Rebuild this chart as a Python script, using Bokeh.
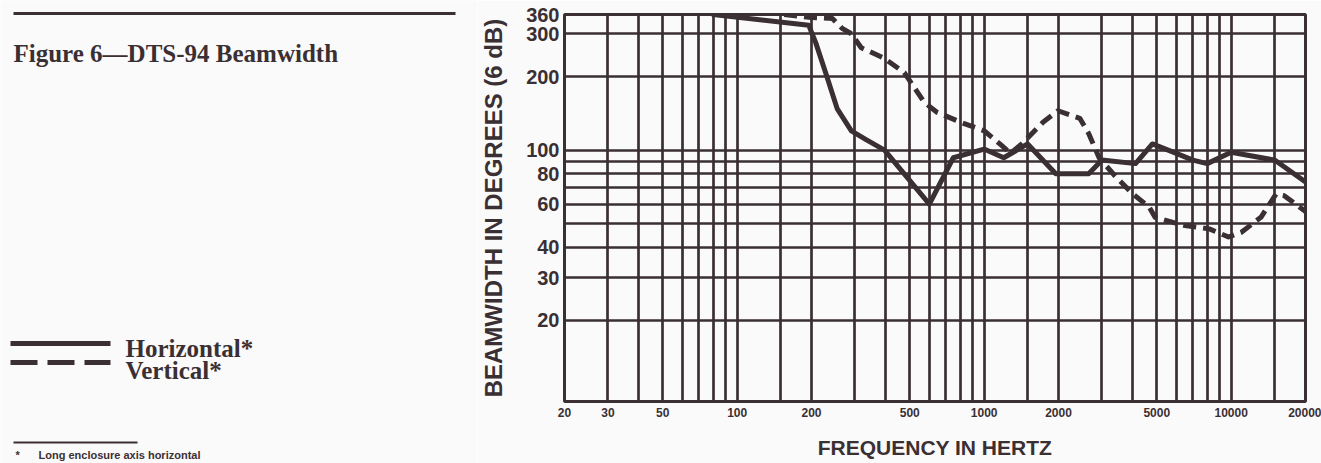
from bokeh.plotting import figure
from bokeh.layouts import row
from bokeh.models import FixedTicker, Range1d
from bokeh.core.properties import value
from bokeh.embed import file_html
from bokeh.resources import INLINE

# ---------------- data ----------------
freq_h = [80, 195, 208, 228, 254, 290, 330, 395, 600, 750, 1000, 1200, 1500,
          1950, 2650, 3000, 4100, 4800, 6000, 7000, 8000, 10000, 15000, 20000]
bw_h = [360, 325, 276, 208, 148, 120, 111, 100, 60, 93, 101, 93, 106,
        80, 80, 91, 88, 106, 97, 91, 88, 98, 91, 74]

freq_v = [155, 200, 243, 266, 290, 318, 394, 475, 572, 644, 804, 1000, 1170,
          1280, 1420, 1730, 1990, 2440, 2650, 2920, 3400, 4000, 4650, 4920,
          6490, 8160, 9760, 11000, 13200, 15200, 16400, 20000]
bw_v = [360, 350, 347, 316, 300, 263, 238, 208, 157, 143, 130, 120, 105,
        97, 106, 130, 145, 135, 117, 93, 78, 66, 58.5, 53,
        49, 47.5, 44, 46, 53, 66, 65, 56]

series_names = ["Horizontal*", "Vertical*"]

x_ticks = [20, 30, 50, 100, 200, 500, 1000, 2000, 5000, 10000, 20000]
x_tick_labels = ["20", "30", "50", "100", "200", "500", "1000", "2000",
                 "5000", "10000", "20000"]
x_grid = [20, 30, 40, 50, 60, 70, 80, 90, 100, 150, 200, 300, 400, 500, 600,
          700, 800, 900, 1000, 1500, 2000, 3000, 4000, 5000, 6000, 7000, 8000,
          9000, 10000, 15000, 20000]

y_ticks = [20, 30, 40, 60, 80, 100, 200, 300, 360]
y_tick_labels = ["20", "30", "40", "60", "80", "100", "200", "300", "360"]
y_grid = [20, 30, 40, 50, 60, 70, 80, 90, 100, 200, 300, 360]

title_text = "Figure 6\u2014DTS-94 Beamwidth"
x_label = "FREQUENCY IN HERTZ"
y_label = "BEAMWIDTH IN DEGREES (6 dB)"
footnote_mark = "*"
footnote_text = "Long enclosure axis horizontal"

# ---------------- style ----------------
INK = "#3a2f33"
BG = "#fafafa"
SERIF = value("Liberation Serif")
SANS = "Liberation Sans"

W_TOTAL, H = 1321, 463
LW = 477

# ---------------- left panel (title, legend, footnote) ----------------
left = figure(width=LW, height=H, x_range=Range1d(0, LW), y_range=Range1d(H, 0),
              output_backend="svg", toolbar_location=None,
              x_axis_location=None, y_axis_location=None, min_border=0)
left.grid.visible = False
left.outline_line_color = None
left.background_fill_color = BG
left.border_fill_color = BG

left.segment(x0=[13], y0=[13], x1=[455], y1=[13], line_width=3, line_color=INK)
left.text(x=[13], y=[53], text=[title_text], text_font=SERIF,
          text_font_style="bold", text_font_size="25px", text_color=INK,
          text_baseline="alphabetic", text_align="left")

left.segment(x0=[10], y0=[343], x1=[110], y1=[343], line_width=5, line_color=INK)
left.text(x=[125], y=[348], text=[series_names[0]], text_font=SERIF,
          text_font_style="bold", text_font_size="25px", text_color=INK,
          text_baseline="alphabetic", text_align="left")
left.segment(x0=[10], y0=[362], x1=[110], y1=[362], line_width=5, line_color=INK,
             line_dash="27 10")
left.text(x=[125], y=[370], text=[series_names[1]], text_font=SERIF,
          text_font_style="bold", text_font_size="25px", text_color=INK,
          text_baseline="alphabetic", text_align="left")

left.segment(x0=[13], y0=[442], x1=[137], y1=[442], line_width=2, line_color=INK)
left.text(x=[15], y=[454], text=[footnote_mark], text_font=value(SANS),
          text_font_style="bold", text_font_size="11px", text_color=INK,
          text_baseline="alphabetic", text_align="left")
left.text(x=[38], y=[454], text=[footnote_text], text_font=value(SANS),
          text_font_style="bold", text_font_size="11px", text_color=INK,
          text_baseline="alphabetic", text_align="left")

# ---------------- chart ----------------
p = figure(width=W_TOTAL - LW, height=H, x_axis_type="log", y_axis_type="log",
           x_range=Range1d(20, 20000), y_range=Range1d(9.3, 360),
           output_backend="svg", toolbar_location=None,
           min_border_left=557 - LW, min_border_right=W_TOTAL - 1305,
           min_border_top=14, min_border_bottom=H - 401)
p.background_fill_color = BG
p.border_fill_color = BG
p.outline_line_color = INK
p.outline_line_width = 3
p.outline_line_alpha = 1.0

for fig in (left, p):
    try:
        fig.frame_align = False
    except AttributeError:
        pass

for ax in (p.xaxis[0], p.yaxis[0]):
    ax.major_tick_line_color = None
    ax.minor_tick_line_color = None
    ax.major_tick_out = 0
    ax.major_tick_in = 0
    ax.minor_tick_out = 0
    ax.minor_tick_in = 0
    ax.axis_line_color = None
    ax.major_label_text_font = SANS
    ax.major_label_text_font_style = "bold"
    ax.major_label_text_color = INK
    ax.axis_label_text_font = SANS
    ax.axis_label_text_font_style = "bold"
    ax.axis_label_text_color = INK

p.xaxis.ticker = FixedTicker(ticks=x_ticks)
p.xaxis.major_label_overrides = {t: l for t, l in zip(x_ticks, x_tick_labels)}
p.xaxis.major_label_text_font_size = "12px"
p.xaxis.major_label_standoff = 6
p.xaxis.axis_label = x_label
p.xaxis.axis_label_text_font_size = "21px"
p.xaxis.axis_label_standoff = 16

p.yaxis.ticker = FixedTicker(ticks=y_ticks)
p.yaxis.major_label_overrides = {t: l for t, l in zip(y_ticks, y_tick_labels)}
p.yaxis.major_label_text_font_size = "20px"
p.yaxis.major_label_standoff = 5
p.yaxis.axis_label = y_label
p.yaxis.axis_label_text_font_size = "24px"
p.yaxis.axis_label_standoff = 16

p.xgrid.ticker = FixedTicker(ticks=x_grid)
p.ygrid.ticker = FixedTicker(ticks=y_grid)
for g in (p.xgrid[0], p.ygrid[0]):
    g.grid_line_color = INK
    g.grid_line_width = 2.7
    g.grid_line_alpha = 1.0
    g.minor_grid_line_color = None

p.line(freq_h, bw_h, line_color=INK, line_width=5, line_join="round",
       line_cap="round")
p.line(freq_v, bw_v, line_color=INK, line_width=5, line_join="round",
       line_dash="13 7")

layout = row(left, p, spacing=0)
open("out.html", "w").write(file_html(layout, INLINE))
